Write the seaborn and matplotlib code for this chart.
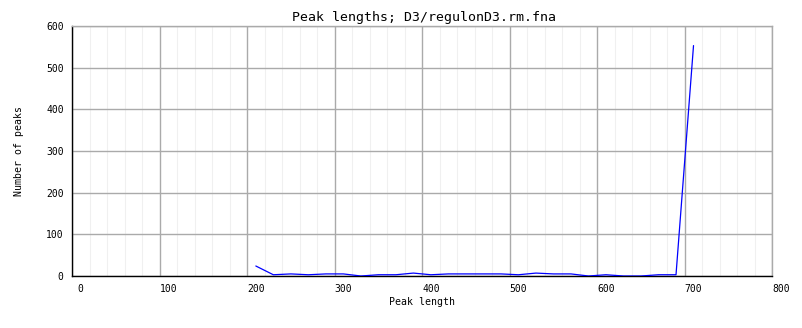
import numpy as np
import pandas as pd
import matplotlib
matplotlib.use("Agg")
import matplotlib.pyplot as plt
from matplotlib.ticker import MultipleLocator
from matplotlib.transforms import blended_transform_factory
import seaborn as sns

# ---- data ----
peak_length = [200, 220, 240, 260, 280, 300, 320, 340, 360, 380, 400, 420, 440,
               460, 480, 500, 520, 540, 560, 580, 600, 620, 640, 660, 680, 700]
num_peaks = [24, 3, 5, 3, 5, 5, 0, 3, 3, 7, 3, 5, 5,
             5, 5, 3, 7, 5, 5, 0, 3, 0, 0, 3, 3, 553]
x_tick_values = [0, 100, 200, 300, 400, 500, 600, 700, 800]
x_tick_labels = ["0", "100", "200", "300", "400", "500", "600", "700", "800"]
y_tick_values = [0, 100, 200, 300, 400, 500, 600]
title = "Peak lengths; D3/regulonD3.rm.fna"
xlabel = "Peak length"
ylabel = "Number of peaks"

df = pd.DataFrame({"length": peak_length, "peaks": num_peaks})

sns.set_theme(style="white")
plt.rcParams["font.family"] = ["DejaVu Sans Mono", "DejaVu Sans"]

W, H = 802, 328
fig = plt.figure(figsize=(W / 100, H / 100), dpi=100)
L, R, T, B = 72, 772.3, 26, 276
ax = fig.add_axes([L / W, (H - B) / H, (R - L) / W, (B - T) / H])

sns.lineplot(data=df, x="length", y="peaks", ax=ax, color="#0000ff",
             linewidth=0.9, zorder=3)

# axis range: grid lines sit ~10 units left of the label positions
ax.set_xlim(-10, 790)
ax.set_ylim(0, 600)
ax.xaxis.set_major_locator(MultipleLocator(100, offset=-10))
ax.xaxis.set_minor_locator(MultipleLocator(20, offset=-10))
ax.set_yticks(y_tick_values)
ax.grid(True, which="major", color="#aaaaaa", linewidth=1.0, zorder=1)
ax.grid(True, which="minor", axis="x", color="#f0f0f0", linewidth=0.8, zorder=0)
ax.set_axisbelow(True)

ax.tick_params(axis="x", which="both", length=0, labelbottom=False)
ax.tick_params(axis="y", which="both", length=0, pad=6, labelsize=7,
               colors="black")

# x tick labels placed at their data values
trans = blended_transform_factory(ax.transData, ax.transAxes)
for v, lab in zip(x_tick_values, x_tick_labels):
    ax.text(v, -0.03, lab, transform=trans, ha="center", va="top",
            fontsize=7, clip_on=False, color="black")

for side in ["left", "bottom"]:
    ax.spines[side].set_color("black")
    ax.spines[side].set_linewidth(1.0)
for side in ["top", "right"]:
    ax.spines[side].set_color("#aaaaaa")
    ax.spines[side].set_linewidth(1.0)
    ax.spines[side].set_visible(True)

ax.set_xlabel(xlabel, fontsize=7.1, color="black")
ax.set_ylabel(ylabel, fontsize=7.1, color="black")
ax.xaxis.set_label_coords(0.5, -0.085)
ax.yaxis.set_label_coords(-0.068, 0.5)

fig.text(0.5 * (L + R) / W + 0.002, 1 - 17 / H, title, ha="center",
         va="center", fontsize=9.5, color="black")

fig.savefig("out.png", dpi=100, facecolor="white")
